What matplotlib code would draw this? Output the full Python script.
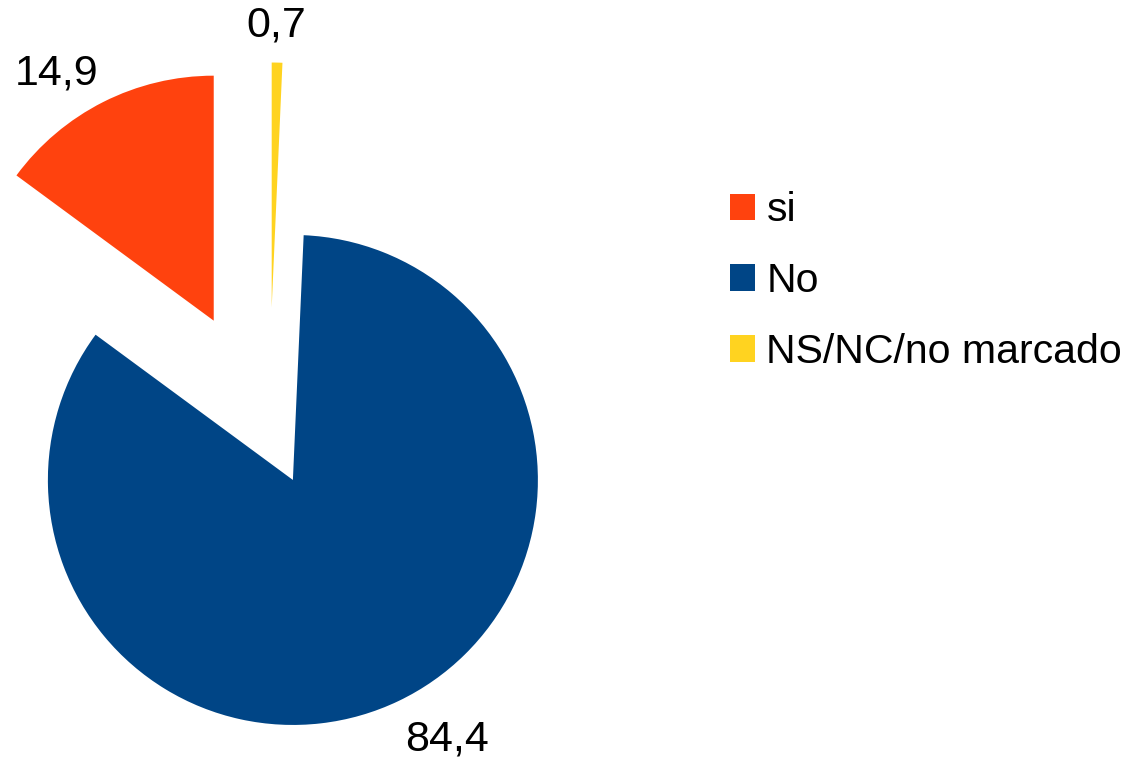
import numpy as np
import matplotlib.pyplot as plt
from matplotlib.transforms import offset_copy

plt.rcParams['font.family'] = ['Liberation Sans', 'DejaVu Sans']

categories = ['si', 'No', 'NS/NC/no marcado']
values = [14.9, 84.4, 0.7]
colors = ['#ff420e', '#004586', '#ffd320']
explode = [0.5, 0.226, 0.5]

W, H = 1129, 758
fig = plt.figure(figsize=(W / 100, H / 100), dpi=100)

# pie centre (269, 430) px, radius 245 px
r = 245.0
cx, cy = 269.0, 430.0
axw = 700
ax = fig.add_axes([0, 0, axw / W, 1])

labels = [('%.1f' % v).replace('.', ',') for v in values]
wedges, texts = ax.pie(values, explode=explode, colors=colors, labels=labels,
                       startangle=90, counterclock=True, labeldistance=1.15,
                       radius=1, wedgeprops=dict(linewidth=0),
                       textprops=dict(fontsize=31, color='black'))
# small nudges of the value labels, in pixels
nudge = [(12, -4), (-9, -5), (-2, 0)]
for t, (dx, dy) in zip(texts, nudge):
    t.set_va('center')
    if abs(t.get_position()[0]) < 0.2:
        t.set_ha('center')
    t.set_transform(offset_copy(t.get_transform(), fig, x=dx, y=dy, units='dots'))
ax.set_xlim(-cx / r, (axw - cx) / r)
ax.set_ylim(-(H - cy) / r, cy / r)
ax.set_aspect('equal')
ax.axis('off')

fig.legend(wedges, categories, loc='center left',
           bbox_to_anchor=(730 / W, 1 - 281 / H), frameon=False,
           fontsize=29.5, handlelength=0.62, handleheight=0.62,
           handletextpad=0.27, labelspacing=0.8, borderpad=0,
           borderaxespad=0)

fig.savefig('out.png', dpi=100)
